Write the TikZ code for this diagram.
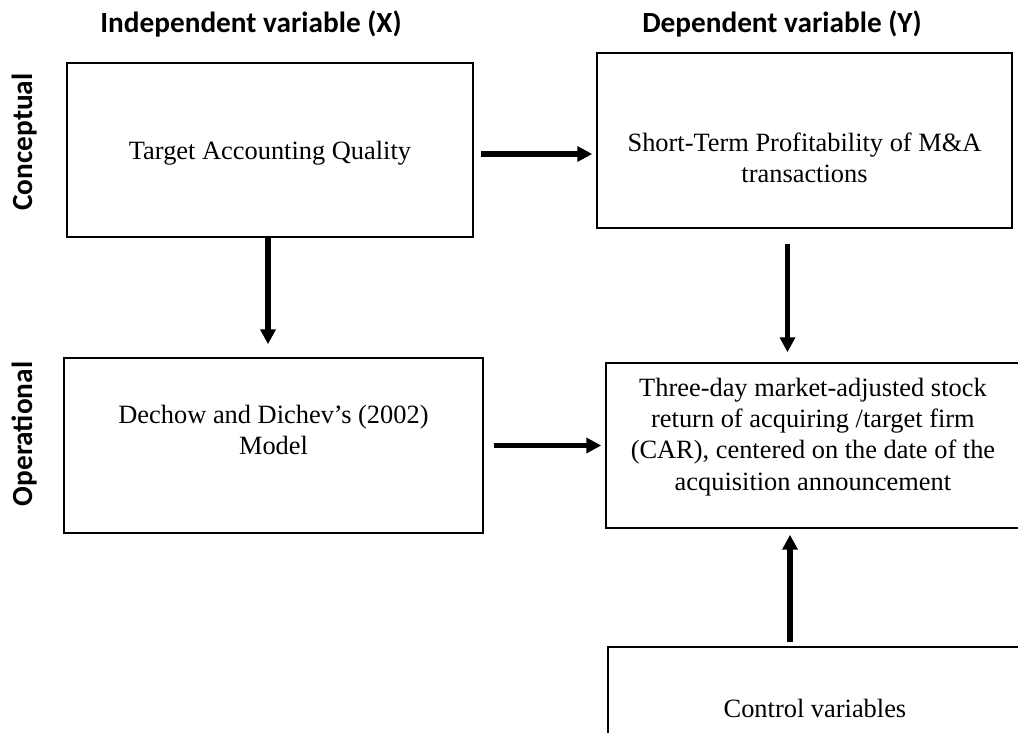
\documentclass[tikz,border=0pt]{standalone}
\usepackage{fontspec}
\setmainfont{Liberation Serif}
\newfontfamily\headfont{Carlito}
\usetikzlibrary{arrows.meta,calc}
\newcommand{\pxu}{0.4545pt}

\begin{document}
\begin{tikzpicture}[x=\pxu, y=-\pxu,
    box/.style={draw, line width=0.7pt, inner sep=0pt},
    txt/.style={align=center, font=\fontsize{12}{14.2}\selectfont},
    head/.style={font=\headfont\bfseries\fontsize{13.3}{16}\selectfont},
    arr/.style={-{Triangle[width=6.8pt,length=6.8pt]}, line width=2.3pt}]
\useasboundingbox (0,0) rectangle (1018,733);
\clip (0,0) rectangle (1018,733);

\node[head] (HX) at (251,24) {Independent variable (X)};
\node[head] (HY) at (782,24) {Dependent variable (Y)};
\node[head, rotate=90] (S1) at (25,142) {Conceptual};
\node[head, rotate=90] (S2) at (25,434) {Operational};

\node[box, minimum width=406*\pxu, minimum height=174*\pxu,
    label={[txt, yshift=-1.4pt]center:Target Accounting Quality}] (X1) at (270,150) {};
\node[box, minimum width=415*\pxu, minimum height=175*\pxu,
    label={[txt, yshift=-8pt]center:{Short-Term Profitability of M\&A\\transactions}}] (Y1) at (804.5,140.5) {};
\draw[arr] ($(X1.east)+(7,4)$) -- ($(X1.east -| Y1.west)+(-4,4)$);

\node[box, minimum width=419*\pxu, minimum height=175*\pxu,
    label={[txt, yshift=7pt]center:{Dechow and Dichev’s (2002)\\Model}}] (X2) at (273.5,445.5) {};
\node[box, minimum width=424*\pxu, minimum height=165*\pxu,
    label={[txt, xshift=-2.3pt, yshift=3.9pt]center:{Three-day market-adjusted stock\\return of acquiring /target firm\\(CAR), centered on the date of the\\acquisition announcement}}] (Y2) at (818,445.5) {};
\draw[arr] ($(X1.south)+(-2,0)$) -- ($(X1.south |- X2.north)+(-2,-13)$);
\draw[arr] ($(Y1.south)+(-17,15)$) -- ($(Y1.south |- Y2.north)+(-17,-10)$);
\draw[arr] ($(X2.east)+(10,0)$) -- ($(X2.east -| Y2.west)+(-4,0)$);

\node[box, minimum width=424*\pxu, minimum height=122*\pxu,
    label={[txt, xshift=-2.3pt]center:Control variables}] (C1) at (820,708) {};
\draw[arr] ($(C1.north)+(-30,-4)$) -- ($(C1.north |- Y2.south)+(-30,6)$);

\end{tikzpicture}
\end{document}
